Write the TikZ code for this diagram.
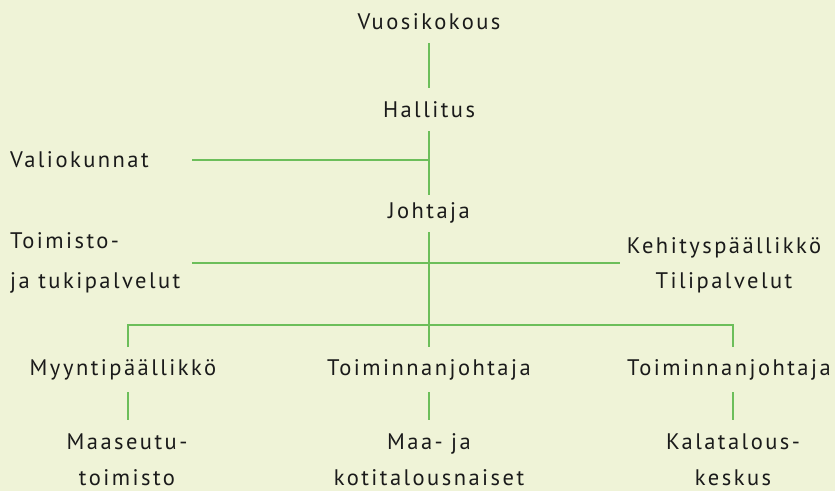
\documentclass[tikz,border=0pt]{standalone}
\usepackage{fontspec}
\setmainfont[LetterSpace=11]{PT Sans}
\usepackage{xcolor}
\definecolor{bgcol}{HTML}{EFF3D7}
\definecolor{linecol}{HTML}{6CBE5A}
\definecolor{txtcol}{HTML}{1A1A1A}

\tikzset{
  lbl/.style={text=txtcol, font=\fontsize{22.5}{36}\selectfont, inner sep=0pt},
  link/.style={draw=linecol, line width=2.8pt}
}

\begin{document}
\begin{tikzpicture}[x=1pt, y=-1pt]
    \fill[bgcol] (0,0) rectangle (835,491);
    \useasboundingbox (0,0) rectangle (835,491);

    \node[lbl] (vuosi) at (429, 22) {Vuosikokous};
    \node[lbl] (hall)  at (429,110) {Hallitus};
    \node[lbl, anchor=west] (valio) at (10,160) {Valiokunnat};
    \node[lbl] (joht)  at (429,213) {Johtaja};
    \node[lbl, anchor=west, align=left, font=\fontsize{22.5}{40}\selectfont] (toim) at (10,263) {Toimisto-\\ja tukipalvelut};
    \node[lbl, align=center, font=\fontsize{22.5}{35}\selectfont] (kehit) at (724,265) {Kehityspäällikkö\\Tilipalvelut};
    \node[lbl] (myynti) at (123,370) {Myyntipäällikkö};
    \node[lbl] (toim1)  at (429,370) {Toiminnanjohtaja};
    \node[lbl] (toim2)  at (729,370) {Toiminnanjohtaja};
    \node[lbl, align=center] (maas)  at (127,460) {Maaseutu-\\toimisto};
    \node[lbl, align=center] (maaja) at (429,460) {Maa- ja\\kotitalousnaiset};
    \node[lbl, align=center] (kala)  at (733,460) {Kalatalous-\\keskus};

    \coordinate (h1) at (429,160);
    \coordinate (h2) at (429,263);
    \coordinate (b0) at (429,325);
    \coordinate (bl) at (128,325);
    \coordinate (br) at (733,325);

    \draw[link] (429,43) -- (429,88);
    \draw[link] (429,131) -- (429,195);
    \draw[link] (192,160) -- (h1);
    \draw[link] (429,232) -- (b0) -- (429,347);
    \draw[link] (192,263) -- (620,263);
    \draw[link] (bl |- 0,347) -- (bl) -- (br) -- (br |- 0,347);
    \draw[link] (128,392) -- (128,420);
    \draw[link] (429,392) -- (429,420);
    \draw[link] (733,392) -- (733,420);
  \end{tikzpicture}
\end{document}
